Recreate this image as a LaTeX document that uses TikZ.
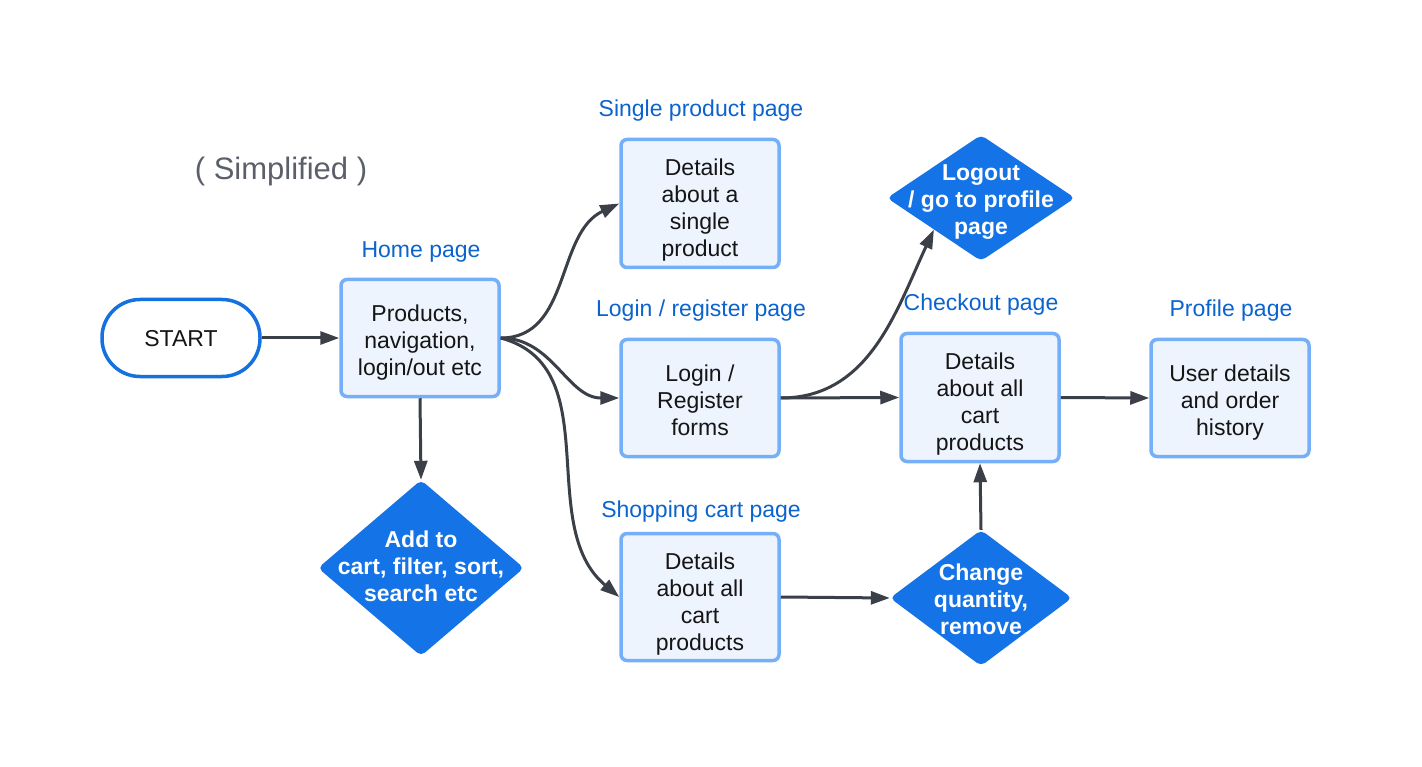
\documentclass[tikz,border=0pt]{standalone}
\usepackage{fontspec}
\setmainfont{Liberation Sans}
\usetikzlibrary{shapes.geometric,arrows.meta}
\definecolor{bluelab}{HTML}{0B63CE}
\definecolor{boxfill}{HTML}{EDF4FE}
\definecolor{boxline}{HTML}{75AFF8}
\definecolor{diafill}{HTML}{1473E6}
\definecolor{startline}{HTML}{1570E0}
\definecolor{arrowc}{HTML}{3A3F48}
\definecolor{simpgray}{HTML}{5A5F69}
\definecolor{txt}{HTML}{151515}
\begin{document}
\begin{tikzpicture}[x=1pt,y=-1pt,
  box/.style={rectangle, rounded corners=6pt, fill=boxfill, draw=boxline, line width=3.5pt,
    minimum width=158pt, inner sep=0pt},
  boxtext/.style={align=center, text=txt, font=\fontsize{23}{27}\selectfont, inner sep=0pt},
  startbox/.style={rectangle, rounded corners=38pt, fill=white, draw=startline, line width=3.5pt,
    minimum width=158pt, minimum height=77pt, text=txt, font=\fontsize{23}{27}\selectfont},
  dia/.style={diamond, fill=diafill, draw=none, rounded corners=5pt, inner sep=0pt},
  diatext/.style={align=center, text=white, font=\bfseries\fontsize{23}{27}\selectfont, inner sep=0pt},
  pagelabel/.style={text=bluelab, font=\fontsize{23}{27}\selectfont, inner sep=0pt},
  arr/.style={draw=arrowc, line width=3pt, -{Triangle[length=19pt,width=13pt]}}
]
\useasboundingbox (0,0) rectangle (1422,767);

\node[text=simpgray, font=\fontsize{31}{36}\selectfont, inner sep=0pt] (simp) at (281,171) {( Simplified )};

\node[startbox] (start) at (181,338) {};
\node[boxtext] (startt) at (181,339) {START};

\node[pagelabel] (homel) at (421,252) {Home page};
\node[box, minimum height=117pt] (home) at (420,338) {};
\node[boxtext] (homet) at (420,343) {Products,\\navigation,\\login/out etc};

\node[dia, minimum width=206pt, minimum height=176pt] (addto) at (421,568) {};
\node[diatext] (addtot) at (421,566) {Add to\\cart, filter, sort,\\search etc};

\node[pagelabel] (singlel) at (701,111) {Single product page};
\node[box, minimum height=128pt] (single) at (700,203.5) {};
\node[boxtext] (singlet) at (700,210.5) {Details\\about a\\single\\product};

\node[pagelabel] (loginl) at (701,311) {Login / register page};
\node[box, minimum height=117pt] (login) at (700,398) {};
\node[boxtext] (logint) at (700,400) {Login /\\Register\\forms};

\node[pagelabel] (shopl) at (701,512) {Shopping cart page};
\node[box, minimum height=127pt] (shop) at (700,597) {};
\node[boxtext] (shopt) at (700,604) {Details\\about all\\cart\\products};

\node[dia, minimum width=188pt, minimum height=126pt] (logout) at (981,198) {};
\node[diatext] (logoutt) at (981,202) {Logout\\/ go to profile\\page};

\node[pagelabel] (checkl) at (981,305) {Checkout page};
\node[box, minimum height=128pt] (check) at (980,397.5) {};
\node[boxtext] (checkt) at (980,404.5) {Details\\about all\\cart\\products};

\node[pagelabel] (profl) at (1231,311) {Profile page};
\node[box, minimum height=117pt] (prof) at (1230,398) {};
\node[boxtext] (proft) at (1230,403) {User details\\and order\\history};

\node[dia, minimum width=182pt, minimum height=136pt] (change) at (981,598) {};
\node[diatext] (changet) at (981,599) {Change\\quantity,\\remove};

\draw[arr] (start.east) -- (home.west);
\draw[arr] (home.south) -- (addto.north);
\draw[arr] (home.east) to[out=0,in=205] (single.west);
\draw[arr] (home.east) to[out=0,in=180] (login.west);
\draw[arr] (home.east) to[out=-15,in=140] (shop.west);
\draw[arr] (login.east) -- (check.west);
\draw[arr] (login.east) to[out=0,in=245] (logout.south west);
\draw[arr] (check.east) -- (prof.west);
\draw[arr] (shop.east) -- (change.west);
\draw[arr] (change.north) -- (check.south);
\end{tikzpicture}
\end{document}
